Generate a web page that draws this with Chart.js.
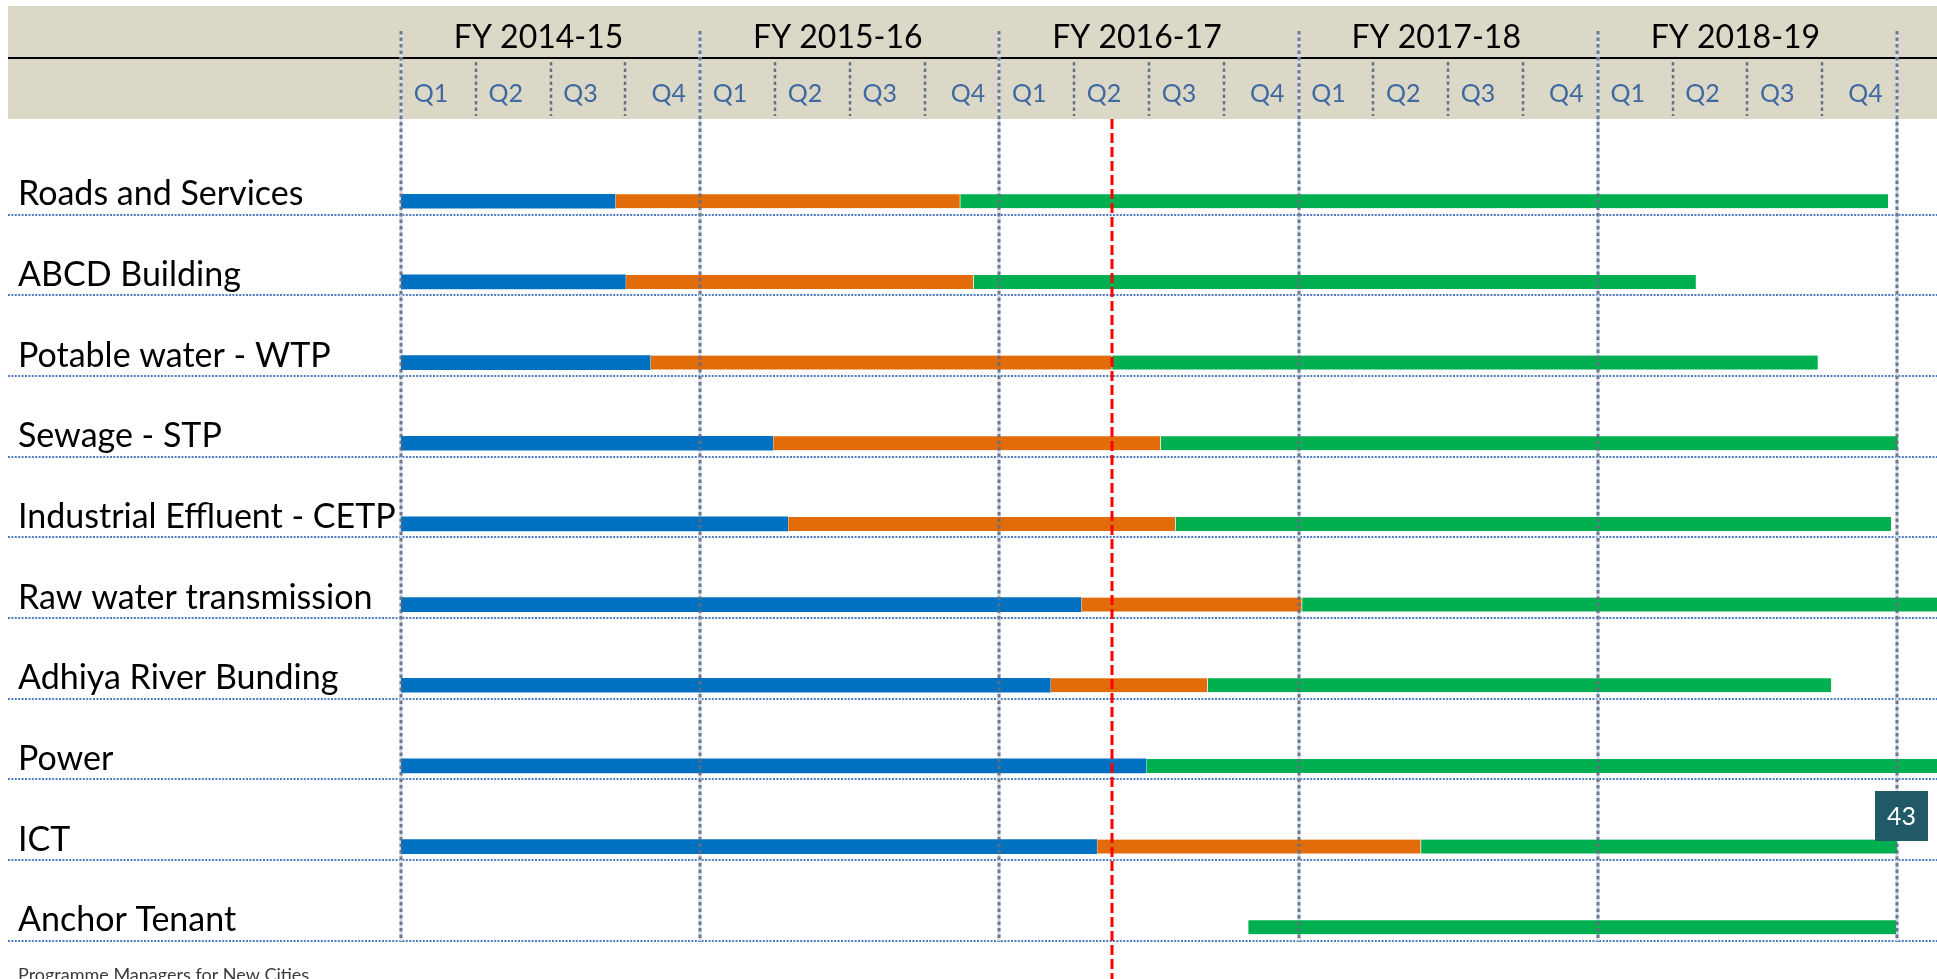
<!DOCTYPE html>
<html>
<head>
<meta charset="utf-8">
<script src="https://cdn.jsdelivr.net/npm/chart.js@4.4.1/dist/chart.umd.min.js"></script>
<style>
  html, body { margin: 0; padding: 0; background: #fff; }
  #wrap { width: 1937px; height: 979px; position: relative; }
</style>
</head>
<body>
<div id="wrap"><canvas id="myChart"></canvas></div>
<script>
//
// data (x values are quarters counted from start of FY 2014-15)
//
const rows = ['Roads and Services', 'ABCD Building', 'Potable water - WTP', 'Sewage - STP',
  'Industrial Effluent - CETP', 'Raw water transmission', 'Adhiya River Bunding', 'Power', 'ICT', 'Anchor Tenant'];
const years = ['FY 2014-15', 'FY 2015-16', 'FY 2016-17', 'FY 2017-18', 'FY 2018-19'];
const quarters = ['Q1', 'Q2', 'Q3', 'Q4'];

const phaseBlue = [[0, 2.86], [0, 3.0], [0, 3.33], [0, 4.97], [0, 5.17], [0, 9.09], [0, 8.68], [0, 9.96], [0, 9.30], null];
const phaseOrange = [[2.86, 7.47], [3.0, 7.65], [3.33, 9.5], [4.97, 10.15], [5.17, 10.35], [9.09, 12.04], [8.68, 10.78], null, [9.30, 13.63], null];
const phaseGreen = [[7.47, 19.88], [7.65, 17.31], [9.5, 18.94], [10.15, 20.01], [10.35, 19.92], [12.04, 20.6], [10.78, 19.12], [9.96, 20.6], [13.63, 20.0], [11.32, 19.99]];

const todayMarker = 9.5;
const pageNumber = '43';
const footerText = 'Programme Managers for New Cities';

Chart.defaults.font.family = "Lato, 'Open Sans', sans-serif";

//
// header band, grid lines, today line etc.
//
const ganttDecor = {
    id: 'ganttDecor',
    beforeDraw(chart) {
        const ctx = chart.ctx;
        const yS = chart.scales.y;
        const w = chart.width;
        ctx.save();
        ctx.fillStyle = '#fff';
        ctx.fillRect(0, 0, w, chart.height);
        // header
        ctx.fillStyle = '#dbd8c8';
        ctx.fillRect(8, 6, w - 8, 113);
        ctx.strokeStyle = '#000';
        ctx.lineWidth = 2;
        ctx.beginPath();
        ctx.moveTo(8, 58);
        ctx.lineTo(w, 58);
        ctx.stroke();
        // row separators
        const band = yS.getPixelForValue(1) - yS.getPixelForValue(0);
        ctx.strokeStyle = '#4f7cc0';
        ctx.lineWidth = 2;
        ctx.setLineDash([2, 1.4]);
        rows.forEach((r, i) => {
            const yy = Math.round(yS.getPixelForValue(i) + band * 0.167);
            ctx.beginPath();
            ctx.moveTo(8, yy);
            ctx.lineTo(w, yy);
            ctx.stroke();
        });
        ctx.restore();
    },
    beforeDatasetsDraw(chart) {
        const ctx = chart.ctx;
        const xS = chart.scales.x;
        const yS = chart.scales.y;
        const band = yS.getPixelForValue(1) - yS.getPixelForValue(0);
        const bottom = Math.round(yS.getPixelForValue(rows.length - 1) + band * 0.167) + 1;
        ctx.save();
        ctx.strokeStyle = '#d6deec';
        ctx.lineWidth = 3;
        for (let q = 0; q <= 20; q += 4) {
            const xx = Math.round(xS.getPixelForValue(q));
            ctx.beginPath();
            ctx.moveTo(xx, 31);
            ctx.lineTo(xx, bottom);
            ctx.stroke();
        }
        ctx.restore();
    },
    afterDatasetsDraw(chart) {
        const ctx = chart.ctx;
        const xS = chart.scales.x;
        const yS = chart.scales.y;
        const band = yS.getPixelForValue(1) - yS.getPixelForValue(0);
        const bottom = Math.round(yS.getPixelForValue(rows.length - 1) + band * 0.167) + 1;
        ctx.save();
        // year lines
        ctx.strokeStyle = 'rgba(100,110,130,0.9)';
        ctx.lineWidth = 3;
        ctx.setLineDash([3.5, 3]);
        for (let q = 0; q <= 20; q += 4) {
            const xx = Math.round(xS.getPixelForValue(q));
            ctx.beginPath();
            ctx.moveTo(xx, 31);
            ctx.lineTo(xx, bottom);
            ctx.stroke();
        }
        // quarter lines in header
        ctx.lineWidth = 2.5;
        ctx.strokeStyle = 'rgba(100,110,130,0.95)';
        for (let q = 1; q < 20; q++) {
            if (q % 4 === 0) continue;
            const xx = Math.round(xS.getPixelForValue(q));
            ctx.beginPath();
            ctx.moveTo(xx, 62);
            ctx.lineTo(xx, 116);
            ctx.stroke();
        }
        // today line
        const tx = Math.round(xS.getPixelForValue(todayMarker));
        ctx.strokeStyle = '#ff0000';
        ctx.lineWidth = 3;
        ctx.setLineDash([10, 4]);
        ctx.beginPath();
        ctx.moveTo(tx, 119);
        ctx.lineTo(tx, chart.height);
        ctx.stroke();
        ctx.setLineDash([]);
        // page number badge
        ctx.fillStyle = '#215967';
        ctx.fillRect(1875, 791, 53, 50);
        ctx.fillStyle = '#fff';
        ctx.font = "25px Lato, 'Open Sans', sans-serif";
        ctx.textAlign = 'center';
        ctx.textBaseline = 'middle';
        ctx.fillText(pageNumber, 1901.5, 817);
        // footer
        ctx.fillStyle = '#3a3a3a';
        ctx.font = "18px Lato, 'Open Sans', sans-serif";
        ctx.textAlign = 'left';
        ctx.textBaseline = 'alphabetic';
        ctx.fillText(footerText, 18, 981);
        ctx.restore();
    }
};

const segBorder = { top: 0, right: 0, bottom: 0, left: 1 };

var myChart = new Chart(document.getElementById('myChart').getContext('2d'), {
    type: 'bar',
    data: {
        labels: rows,
        datasets: [{
            label: 'Phase 1',
            data: phaseBlue,
            backgroundColor: '#0070c0',
            borderWidth: 0,
            barThickness: 14,
            grouped: false,
        }, {
            label: 'Phase 2',
            data: phaseOrange,
            backgroundColor: '#e36c0a',
            borderColor: '#ffffff',
            borderWidth: segBorder,
            borderSkipped: false,
            barThickness: 14,
            grouped: false,
        }, {
            label: 'Phase 3',
            data: phaseGreen,
            backgroundColor: '#00b050',
            borderColor: '#ffffff',
            borderWidth: segBorder,
            borderSkipped: false,
            barThickness: 14,
            grouped: false,
        }]
    },
    options: {
        indexAxis: 'y',
        responsive: true,
        maintainAspectRatio: false,
        animation: false,
        layout: {
            padding: { left: 18, top: 0, right: 0, bottom: 11.4 }
        },
        plugins: {
            legend: { display: false },
            tooltip: { enabled: false },
        },
        scales: {
            x: {
                type: 'linear',
                position: 'top',
                weight: 0,
                min: 0,
                max: 20.535,
                grid: { display: false, drawTicks: false },
                border: { display: false },
                afterBuildTicks: (s) => {
                    s.ticks = [];
                    for (let i = 0; i < years.length * 4; i++) {
                        s.ticks.push({ value: i + (i % 4 === 3 ? 0.58 : 0.4) });
                    }
                },
                afterFit: (s) => { s.height = 102.9; },
                ticks: {
                    autoSkip: false,
                    maxRotation: 0,
                    minRotation: 0,
                    padding: 52.4,
                    color: '#3f69a0',
                    font: { size: 25 },
                    callback: (v, i) => quarters[i % 4],
                },
            },
            fy: {
                type: 'linear',
                position: 'top',
                weight: 1,
                min: 0,
                max: 20.535,
                grid: { display: false, drawTicks: false },
                border: { display: false },
                afterBuildTicks: (s) => {
                    s.ticks = years.map((y, i) => ({ value: i * 4 + 2 }));
                },
                afterFit: (s) => { s.height = 58; },
                ticks: {
                    autoSkip: false,
                    maxRotation: 0,
                    minRotation: 0,
                    padding: 1,
                    labelOffset: -12,
                    color: '#000',
                    font: { size: 32 },
                    callback: (v, i) => years[i],
                },
            },
            y: {
                type: 'category',
                grid: { display: false, drawTicks: false },
                border: { display: false },
                afterFit: (s) => { s.width = 383; },
                ticks: {
                    crossAlign: 'far',
                    padding: 0,
                    labelOffset: -7,
                    color: '#000',
                    font: { size: 34, lineHeight: 0.6 },
                },
            },
        },
    },
    plugins: [ganttDecor],
});
</script>
</body>
</html>
